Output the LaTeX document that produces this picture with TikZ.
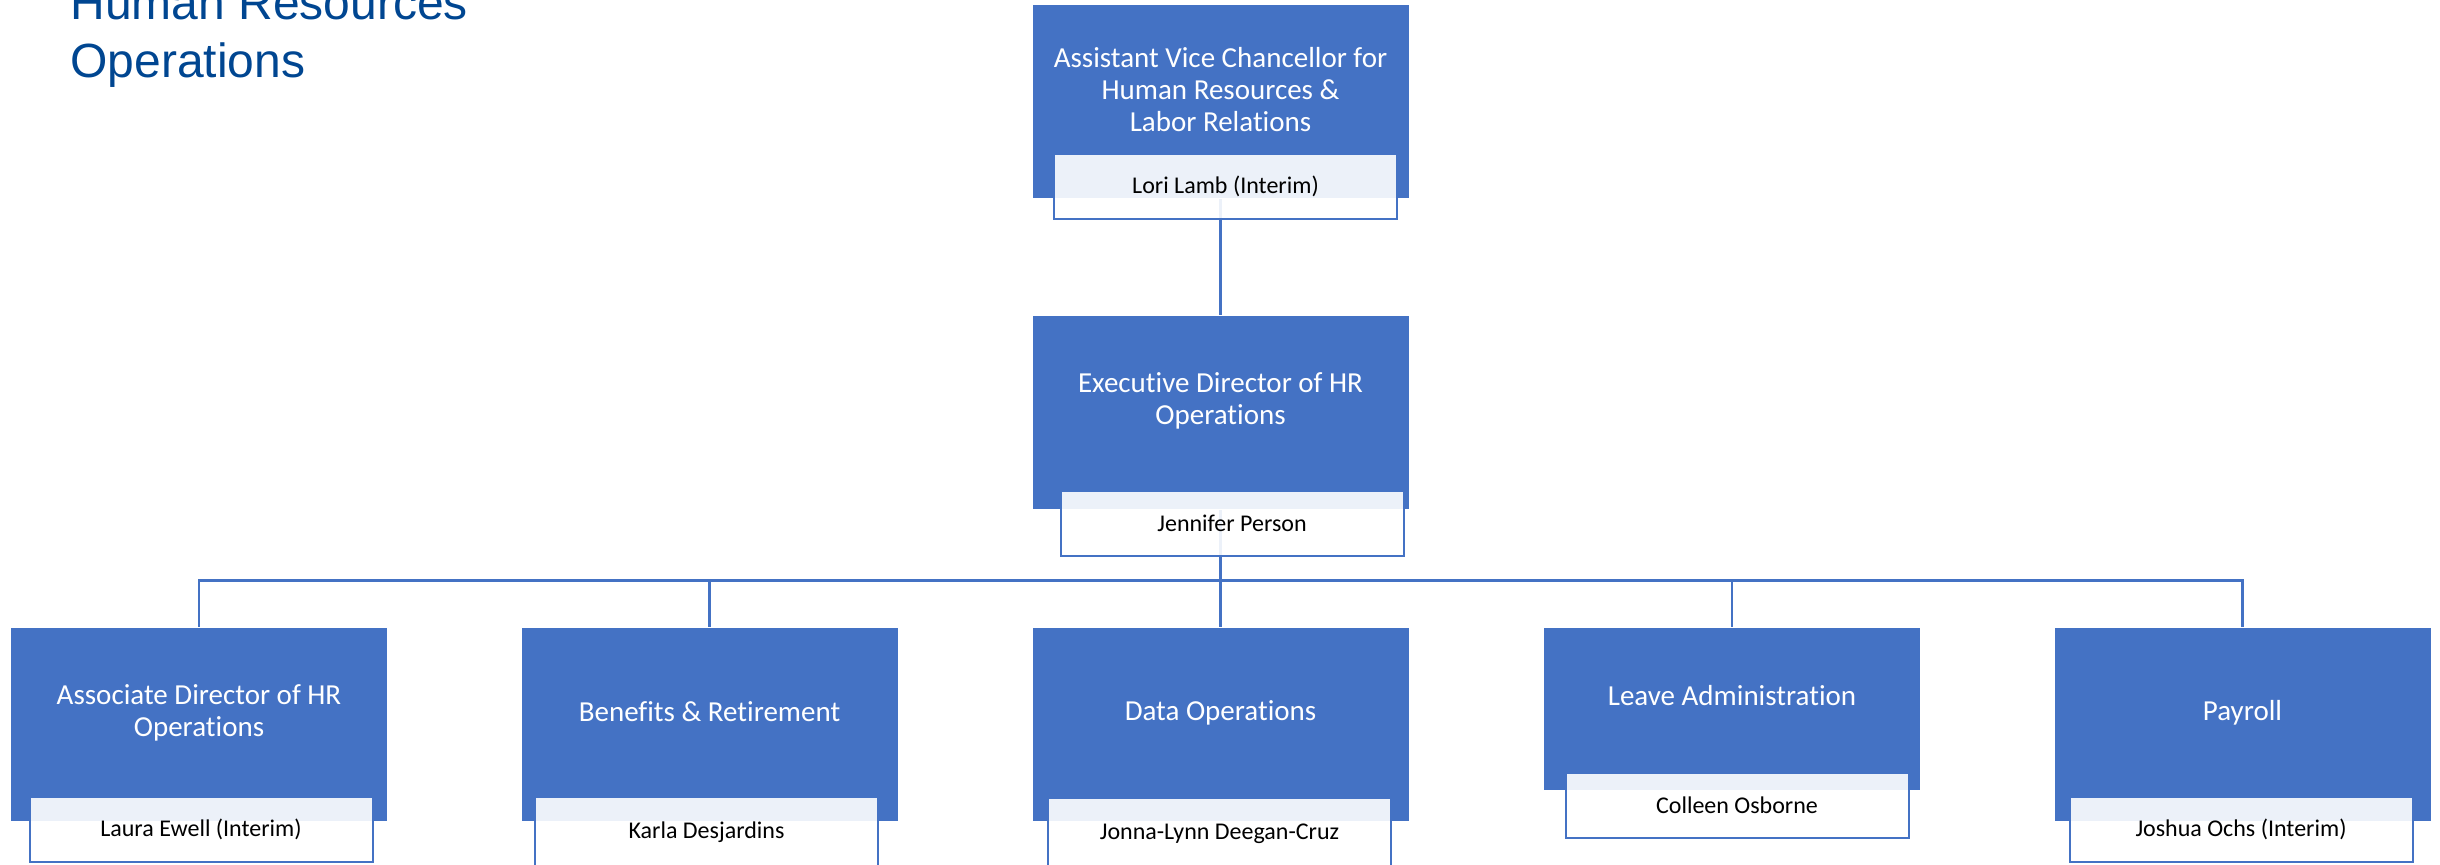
\documentclass[tikz,border=0pt]{standalone}
\usepackage{fontspec}
\setmainfont{Carlito}[Ligatures=NoCommon]
\newfontfamily\headfont{Liberation Sans}
\usepackage{tikz}

\definecolor{unitblue}{HTML}{4472C4}
\definecolor{headblue}{RGB}{0,70,145}

\tikzset{
	unit/.style={fill=unitblue, draw=white, line width=0.5pt, minimum width=188.5pt, minimum height=97pt, inner sep=0pt},
	unittext/.style={text=white, align=center, inner sep=0pt, font=\fontsize{14.5}{16}\selectfont},
	namebox/.style={fill=white, fill opacity=0.9, text opacity=1, draw=unitblue, line width=1pt, minimum width=171.5pt, minimum height=32.5pt, font=\fontsize{12}{14}\selectfont},
	deepname/.style={anchor=north, inner ysep=4pt, text height=16.5pt, text depth=40pt},
	link/.style={draw=unitblue, line width=1.25pt},
	heading/.style={anchor=base west, align=left, inner sep=0pt, text=headblue, font=\headfont\fontsize{24}{29}\selectfont}
}

\begin{document}
\begin{tikzpicture}[x=0.5pt, y=-0.5pt]
	\useasboundingbox (0,0) rectangle (2440,865);
	% heading
	\node [heading] (head) at (70,78) {Human Resources\\Operations};

	% boxes
	\node [unit] (avc) at (1220.5,102) {};
	\node [unit] (exec) at (1220.5,413) {};
	\node [unit] (assoc) at (199,724) {};
	\node [unit] (benef) at (709.5,724) {};
	\node [unit] (data) at (1220.5,724) {};
	\node [unit, minimum height=81.5pt] (leave) at (1732,708.5) {};
	\node [unit] (payroll) at (2242.5,724) {};

	% label
	\node [unittext] (avc-t) at (1220.5,90) {Assistant Vice Chancellor for\\Human Resources \&\\Labor Relations};
	\node [unittext] (exec-t) at (1220.5,401) {Executive Director of HR\\Operations};
	\node [unittext] (assoc-t) at (199,713) {Associate Director of HR\\Operations};
	\node [unittext] (benef-t) at (709.5,712) {Benefits \& Retirement};
	\node [unittext] (data-t) at (1220.5,713) {Data Operations};
	\node [unittext] (leave-t) at (1732,696) {Leave Administration};
	\node [unittext] (payroll-t) at (2242.5,713) {Payroll};

	% avc
	\draw [link] (avc) -- (exec);
	% exec
	\draw [link] (exec.south) -- ++(0,70) -| (assoc.north);
	\draw [link] (exec.south) -- ++(0,70) -| (benef.north);
	\draw [link] (exec.south) -- (data.north);
	\draw [link] (exec.south) -- ++(0,70) -| (leave.north);
	\draw [link] (exec.south) -- ++(0,70) -| (payroll.north);

	% names
	\node [namebox] (avc-n) at (1225.5,186.5) {Lori Lamb (Interim)};
	\node [namebox] (exec-n) at (1232,523.5) {Jennifer Person};
	\node [namebox] (assoc-n) at (201,829) {Laura Ewell (Interim)};
	\node [namebox, deepname] (benef-n) at (706.5,796) {Karla Desjardins};
	\node [namebox, deepname] (data-n) at (1219.5,797) {Jonna-Lynn Deegan-Cruz};
	\node [namebox] (leave-n) at (1737,805) {Colleen Osborne};
	\node [namebox] (payroll-n) at (2241,829) {Joshua Ochs (Interim)};
\end{tikzpicture}
\end{document}
